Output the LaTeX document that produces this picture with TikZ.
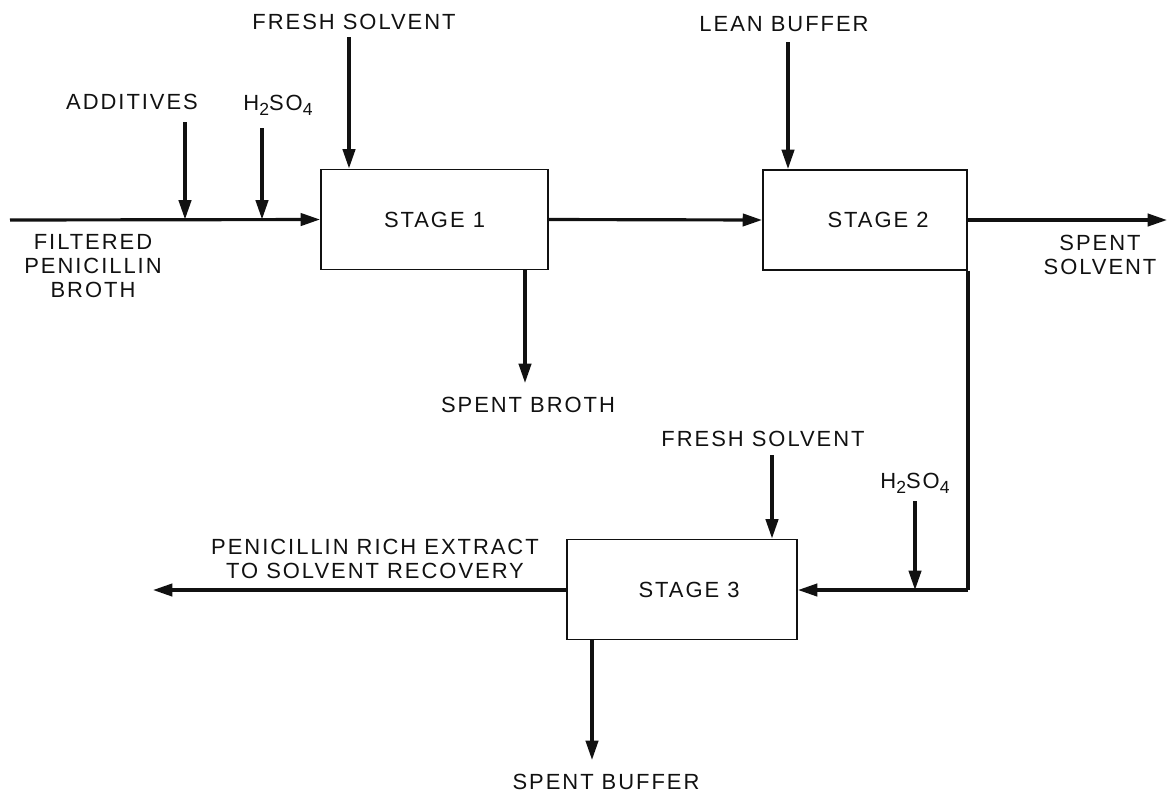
\documentclass[tikz,border=0pt]{standalone}
\usepackage{fontspec}
\setmainfont[LetterSpace=9]{Liberation Sans}
\usepackage{tikz}
\usetikzlibrary{arrows.meta, positioning}
\definecolor{ink}{HTML}{111111}
\newcommand{\lowsub}[1]{\raisebox{-0.45ex}{\fontsize{10}{10}\selectfont #1}}

\tikzset{
  stagebox/.style={draw=ink, line width=1.1pt, minimum height=2cm, inner sep=0pt},
  lbl/.style={text=ink, align=center, inner sep=1pt, font=\fontsize{12.5}{13.5}\selectfont},
  flow/.style={draw=ink, line width=1.8pt, -{Triangle[length=11pt, width=7pt]}},
  pipe/.style={draw=ink, line width=1.8pt}
}

\begin{document}
\begin{tikzpicture}[x=0.02cm, y=-0.02cm]
    \useasboundingbox (0,0) rectangle (1168,792);
    % the three stages
    \node[stagebox, lbl, minimum width=4.54cm] (st1) at (434.5,219.5) {STAGE 1};
    \node[stagebox, lbl, minimum width=4.08cm] (st2) at (865,220) {\hspace*{0.52cm}STAGE 2};
    \node[stagebox, lbl, minimum width=4.6cm] (st3) at (682,589.5) {\hspace*{0.28cm}STAGE 3};

    % stream labels
    \node[lbl] (lAdd) at (132,102) {ADDITIVES};
    \node[lbl] (lAcid1) at (278,105) {H\lowsub{2}SO\lowsub{4}};
    \node[lbl] (lFresh1) at (354,22) {FRESH SOLVENT};
    \node[lbl] (lLean) at (784,24) {LEAN BUFFER};
    \node[lbl] (lFeed) at (93,266) {FILTERED\\PENICILLIN\\BROTH};
    \node[lbl] (lSpentSolv) at (1100,255) {SPENT\\SOLVENT};
    \node[lbl] (lSpentBroth) at (528,405) {SPENT BROTH};
    \node[lbl] (lFresh3) at (763,439) {FRESH SOLVENT};
    \node[lbl] (lAcid3) at (915,483) {H\lowsub{2}SO\lowsub{4}};
    \node[lbl] (lExtract) at (375,559) {PENICILLIN RICH EXTRACT\\TO SOLVENT RECOVERY};
    \node[lbl] (lSpentBuf) at (606,782) {SPENT BUFFER};

    % free ends of the streams
    \coordinate (feedin) at (10,220);
    \coordinate (addtop) at (185,122);
    \coordinate (acid1top) at (262,128);
    \coordinate (fs1top) at (349,37);
    \coordinate (lbtop) at (788,42);
    \coordinate (ssout) at (1167,220);
    \coordinate (sbend) at (525,383);
    \coordinate (corner) at (968,590);
    \coordinate (acid3top) at (915,501);
    \coordinate (fs3top) at (772,455);
    \coordinate (exout) at (153,590);
    \coordinate (sbufend) at (592,760);

    % feed line into stage 1
    \draw[flow] (feedin) -- (st1.west);
    \draw[flow] (addtop) -- (addtop |- st1.west);
    \draw[flow] (acid1top) -- (acid1top |- st1.west);
    \draw[flow] (fs1top) -- (fs1top |- st1.north);
    \draw[flow] (st1.south -| sbend) -- (sbend);

    % stage 1 to stage 2 and out
    \draw[flow] (st1.east) -- (st2.west);
    \draw[flow] (lbtop) -- (lbtop |- st2.north);
    \draw[flow] (st2.east) -- (ssout);

    % stage 2 down to stage 3
    \draw[pipe] (st2.south -| corner) -- (corner);
    \draw[flow] (corner) -- (st3.east |- corner);
    \draw[flow] (acid3top) -- (acid3top |- corner);
    \draw[flow] (fs3top) -- (fs3top |- st3.north);
    \draw[flow] (st3.west |- exout) -- (exout);
    \draw[flow] (st3.south -| sbufend) -- (sbufend);
\end{tikzpicture}
\end{document}
